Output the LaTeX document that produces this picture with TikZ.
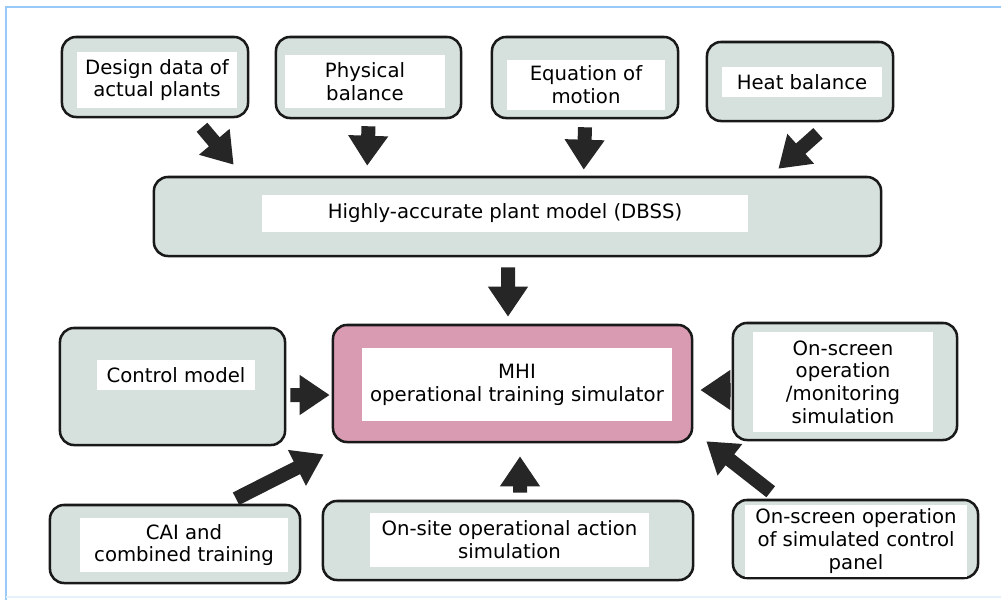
\documentclass[tikz,border=0pt]{standalone}
\usepackage{fontspec}
\setmainfont{DejaVu Sans}
\usetikzlibrary{arrows.meta}
\definecolor{boxfill}{HTML}{D6E1DE}
\definecolor{mhifill}{HTML}{D99BB2}
\definecolor{frameblue}{HTML}{99C9F7}
\definecolor{arrowblk}{HTML}{262626}

\begin{document}
\begin{tikzpicture}[x=0.025cm,y=-0.025cm,
  box/.style={draw=black!90,line width=1.8pt,rounded corners=0.35cm,fill=boxfill,inner sep=0pt},
  inbox/.style={fill=white,inner sep=0pt,align=center,font=\fontsize{14}{16.2}\selectfont},
  blk/.style={draw=arrowblk,line width=0.35cm,-{Triangle[length=0.75cm,width=0.95cm]}}]
   \useasboundingbox (0,0) rectangle (1001,600);
   \draw[frameblue,line width=0.065cm] (6,600) -- (6,7) -- (1001,7);
   \draw[frameblue!25,line width=0.03cm] (6,597) -- (1001,597);

   \node[box,minimum width=4.65cm,minimum height=2cm] (a) at (155,77) {};
   \node[box,minimum width=4.625cm,minimum height=2.025cm] (b) at (368.5,77.5) {};
   \node[box,minimum width=4.65cm,minimum height=2.025cm] (c) at (585,77.5) {};
   \node[box,minimum width=4.65cm,minimum height=1.975cm] (d) at (800,81.5) {};
   \node[box,minimum width=18.175cm,minimum height=1.975cm] (e) at (517.5,216.5) {};
   \node[box,minimum width=5.625cm,minimum height=2.925cm] (f) at (172.5,386.5) {};
   \node[box,fill=mhifill,minimum width=8.975cm,minimum height=2.925cm] (g) at (512.5,383.5) {};
   \node[box,minimum width=5.6cm,minimum height=2.925cm] (h) at (845,381.5) {};
   \node[box,minimum width=6.25cm,minimum height=1.95cm] (i) at (175,544) {};
   \node[box,minimum width=9.25cm,minimum height=1.975cm] (j) at (508,540.5) {};
   \node[box,minimum width=6.125cm,minimum height=1.95cm] (k) at (855.5,539) {};

   \node[inbox,minimum width=4cm,minimum height=1.4cm] (a1) at (157,80) {Design data of\\actual plants};
   \node[inbox,minimum width=4cm,minimum height=1.325cm] (b1) at (365,81.5) {Physical\\balance};
   \node[inbox,minimum width=3.95cm,minimum height=1.25cm] (c1) at (586,85) {Equation of\\motion};
   \node[inbox,minimum width=4cm,minimum height=0.75cm] (d1) at (802,82) {Heat balance};
   \node[inbox,minimum width=12.15cm,minimum height=0.925cm] (e1) at (505,213.5) {Highly-accurate plant model (DBSS)};
   \node[inbox,minimum width=3.95cm,minimum height=0.75cm] (f1) at (176,375) {Control model};
   \node[inbox,minimum width=7.75cm,minimum height=1.825cm] (g1) at (517,384.5) {MHI\\operational training simulator};
   \node[inbox,minimum width=4.5cm,minimum height=2.5cm] (h1) at (843,382) {On-screen\\operation\\/monitoring\\simulation};
   \node[inbox,minimum width=5.2cm,minimum height=1.35cm] (i1) at (184,545) {CAI and\\combined training};
   \node[inbox,minimum width=6.975cm,minimum height=1.35cm] (j1) at (509.5,540) {On-site operational action\\simulation};
   \node[inbox,minimum width=5.55cm,minimum height=1.8cm] (k1) at (856,541) {On-screen operation\\of simulated control\\panel};

   \draw[blk] ([xshift=1.175cm,yshift=-0.225cm]a.south) -- ([xshift=2.025cm,yshift=0.275cm]e.north west);
   \draw[blk] ([yshift=-0.175cm]b.south) -- ([xshift=5.3625cm,yshift=0.25cm]e.north west);
   \draw[blk] ([yshift=-0.2cm]c.south) -- ([xshift=10.775cm,yshift=0.15cm]e.north west);
   \draw[blk] ([xshift=0.45cm,yshift=-0.275cm]d.south) -- ([xshift=-2.6cm,yshift=0.175cm]e.north east);
   \draw[blk] ([xshift=-0.2375cm,yshift=-0.25cm]e.south) -- ([xshift=-0.1125cm,yshift=0.175cm]g.north);
   \draw[blk] ([xshift=0.1cm,yshift=-0.2125cm]f.east) -- ([xshift=-0.05cm,yshift=-0.2875cm]g.west);
   \draw[blk] ([xshift=-0.025cm,yshift=-0.2125cm]h.west) -- ([xshift=0.175cm,yshift=-0.1625cm]g.east);
   \draw[blk] ([xshift=1.525cm,yshift=0.125cm]i.north) -- ([xshift=-0.2cm,yshift=-0.275cm]g.south west);
   \draw[blk] ([xshift=0.3cm,yshift=0.175cm]j.north) -- ([xshift=0.1875cm,yshift=-0.325cm]g.south);
   \draw[blk] ([xshift=0.975cm,yshift=0.175cm]k.north west) -- ([xshift=0.325cm,yshift=0.05cm]g.south east);
\end{tikzpicture}
\end{document}
